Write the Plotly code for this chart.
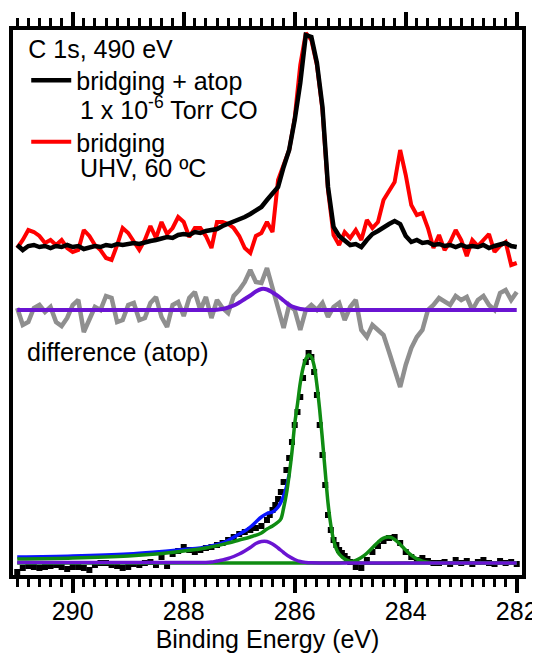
import numpy as np
import plotly.graph_objects as go

# ---------------- data (binding energy in eV, intensity in arbitrary units, stacked) ----------------
energy = np.round(np.arange(291.0, 281.95, -0.1), 2)  # 291.0 ... 282.0

bridging_atop = [332, 327, 331, 332, 330, 331, 329, 331, 330, 332,
                 330, 331, 328, 330, 331, 330, 332, 331, 333, 332,
                 333, 334, 333, 335, 336, 337, 338, 340, 339, 342,
                 343, 342, 345, 344, 346, 347, 348, 351, 353, 355,
                 357, 360, 363, 367, 370, 377, 383, 390, 410, 427,
                 457, 494, 542, 540, 514, 470, 390, 350, 341, 336,
                 332, 333, 330, 337, 343, 346, 350, 353, 356, 353,
                 341, 335, 337, 334, 335, 332, 333, 331, 332, 330,
                 332, 330, 331, 330, 332, 329, 331, 333, 334, 331,
                 330]

bridging = [329, 337, 347, 345, 341, 334, 337, 332, 337, 329,
            325, 327, 347, 341, 332, 327, 319, 317, 332, 349,
            344, 335, 327, 337, 351, 339, 355, 343, 349, 360,
            355, 340, 349, 349, 341, 329, 355, 355, 353, 349,
            341, 329, 324, 341, 344, 355, 345, 397, 412, 427,
            459, 512, 544, 537, 512, 467, 387, 342, 332, 345,
            339, 347, 337, 357, 349, 355, 377, 387, 395, 427,
            402, 372, 362, 364, 349, 329, 342, 327, 335, 347,
            337, 321, 337, 331, 337, 343, 325, 331, 335, 312,
            314]

difference = [269, 252, 255, 269, 272, 265, 270, 255, 251, 259,
              272, 277, 245, 257, 270, 267, 281, 279, 255, 257,
              272, 274, 257, 259, 274, 280, 260, 250, 272, 275,
              261, 279, 285, 267, 280, 259, 277, 269, 264, 281,
              287, 295, 307, 295, 294, 309, 290, 267, 249, 272,
              267, 247, 267, 272, 267, 274, 260, 270, 274, 257,
              270, 277, 247, 240, 252, 247, 242, 225, 207, 190,
              212, 229, 240, 247, 267, 272, 279, 275, 272, 281,
              277, 280, 267, 277, 281, 272, 267, 284, 287, 277,
              285]

# atop component fitted to the difference spectrum
atop_diff_energy = [291.0, 289.0, 287.6, 287.5, 287.4, 287.3, 287.2, 287.1, 287.0, 286.9, 286.8, 286.7,
                    286.6, 286.5, 286.4, 286.3, 286.2, 286.1, 286.0, 285.9, 285.8, 285.7, 285.0, 282.0]
atop_diff = [267, 267, 267, 267, 267.3, 268, 269.5, 271.5, 274.5, 278, 281.5, 285.5,
             288, 287.5, 284.5, 281, 276.5, 272, 269.5, 268, 267.3, 267, 267, 267]

# bottom spectrum (bridging + atop) with fit
fit_data_energy = np.round(np.concatenate([np.arange(291.0, 286.45, -0.1),
                                           np.arange(286.45, 285.02, -0.05),
                                           np.arange(285.0, 281.95, -0.1)]), 2)
fit_data = [5, 9, 11, 10, 9, 10, 11, 12, 10, 8,
            10, 10, 9, 7, 12, 14, 14, 12, 11, 9,
            10, 13, 12, 14, 15, 12, 20, 11, 23, 26,
            30, 27, 25, 27, 29, 30, 32, 34, 37, 40,
            43, 45, 47, 49, 51, 57,
            62, 67, 72, 78, 85, 95, 107, 119, 135, 152,
            165, 180, 199, 215, 224, 220, 205, 182, 152, 122,
            92, 62, 47, 37, 32, 27, 24, 21, 18,
            15, 10, 9, 17, 25, 31, 36, 39, 40, 34,
            25, 20, 17, 19, 16, 14, 14, 15, 13, 17,
            14, 16, 13, 15, 17, 14, 13, 16, 14, 15, 13]

total_fit_energy = [291.0, 290.0, 289.0, 288.5, 288.0, 287.7, 287.3, 287.0, 286.9, 286.8, 286.7,
                    286.6, 286.5, 286.4, 286.3, 286.2, 286.15, 286.1]
total_fit = [20, 21, 23, 25, 27.5, 29, 34, 43, 46, 50, 55, 60, 63.5, 65, 70, 81, 90, 103]

bridging_fit_energy = [291.0, 290.0, 289.0, 288.5, 288.0, 287.6, 287.2, 287.0, 286.8, 286.6, 286.5,
                       286.4, 286.3, 286.25, 286.2, 286.15, 286.1, 286.05, 286.0, 285.95, 285.9,
                       285.85, 285.8, 285.75, 285.7, 285.65, 285.6, 285.55, 285.5, 285.45, 285.4,
                       285.35, 285.3, 285.25, 285.2, 285.1, 285.0, 284.8, 284.0, 282.0]
bridging_fit = [18, 19, 21, 23, 26, 29, 34, 37, 40, 44, 48,
                51, 55, 58, 69, 83, 102, 125, 153, 173, 194,
                209, 218, 222, 220, 211, 192, 167, 137, 105, 74,
                52, 37, 28, 23, 18, 15.5, 14, 14, 14]

low_be_fit_energy = [291.0, 286.0, 285.3, 285.2, 285.1, 285.0, 284.9, 284.8, 284.7, 284.6, 284.5, 284.4,
                     284.3, 284.2, 284.1, 284.0, 283.9, 283.8, 283.7, 283.6, 283.5, 283.4, 283.0, 282.0]
low_be_fit = [14, 14, 14, 14, 14.4, 15.1, 16.6, 19.4, 23.7, 29.2, 34.8, 38.9,
              39.9, 37.6, 32.6, 26.9, 21.8, 18.1, 15.9, 14.7, 14, 14, 14, 14]

atop_fit_energy = [291.0, 289.0, 287.6, 287.5, 287.4, 287.3, 287.2, 287.1, 287.0, 286.9, 286.8, 286.7,
                   286.6, 286.5, 286.4, 286.3, 286.2, 286.1, 286.0, 285.9, 285.8, 285.7, 285.0, 282.0]
atop_fit = [14.5, 14.5, 14.6, 15, 16, 17, 18.5, 20.5, 23, 26, 29.5, 33.5,
            35.5, 35.5, 33, 29, 24.5, 20.5, 17.5, 15.5, 14.6, 14.2, 14, 14]

label_ticks = [282, 284, 286, 288, 290]
tick_labels = ["282", "284", "286", "288", "290"]
odd_ticks = [283, 285, 287, 289, 291]

legend_title = "C 1s, 490 eV"
name_atop = "bridging + atop"
cond_atop = "1 x 10<sup>-6</sup> Torr CO"
name_bridging = "bridging"
cond_bridging = "UHV, 60 ºC"
diff_label = "difference (atop)"
x_title = "Binding Energy (eV)"

# ---------------- styling ----------------
FONT = "Liberation Sans, Arial, sans-serif"
FS = 25
RED = "#ff0000"
GREY = "#8f8f8f"
PURPLE = "#6a14d2"
GREEN = "#0f8c12"
BLUE = "#0a14ff"
X_RANGE = [291.076, 281.905]
# the page body adds an 8 px offset, so the figure is 8 px smaller on the left/top
PAGE_OFFSET = 8

fig = go.Figure()

fig.add_trace(go.Scatter(x=energy, y=bridging, mode="lines", name=name_bridging,
                         line=dict(color=RED, width=4), legendrank=2, legendgroup="b"))
fig.add_trace(go.Scatter(x=energy, y=bridging_atop, mode="lines", name=name_atop,
                         line=dict(color="black", width=4.5), legendrank=1, legendgroup="a"))
fig.add_trace(go.Scatter(x=energy, y=difference, mode="lines", showlegend=False,
                         line=dict(color=GREY, width=4.5)))
fig.add_trace(go.Scatter(x=atop_diff_energy, y=atop_diff, mode="lines", showlegend=False,
                         line=dict(color=PURPLE, width=4, shape="spline")))

fig.add_trace(go.Scatter(x=fit_data_energy, y=fit_data, mode="markers", showlegend=False,
                         marker=dict(symbol="square", size=6, color="black")))
fig.add_trace(go.Scatter(x=total_fit_energy, y=total_fit, mode="lines", showlegend=False,
                         line=dict(color=BLUE, width=3.5, shape="spline")))
fig.add_trace(go.Scatter(x=low_be_fit_energy, y=low_be_fit, mode="lines", showlegend=False,
                         line=dict(color=GREEN, width=3.5, shape="spline")))
fig.add_trace(go.Scatter(x=bridging_fit_energy, y=bridging_fit, mode="lines", showlegend=False,
                         line=dict(color=GREEN, width=3.5, shape="spline")))
fig.add_trace(go.Scatter(x=atop_fit_energy, y=atop_fit, mode="lines", showlegend=False,
                         line=dict(color=PURPLE, width=3.5, shape="spline")))

txt_font = dict(family=FONT, size=FS, color="black")
fig.add_annotation(x=290.86, y=225, xref="x", yref="y", text=diff_label, showarrow=False,
                   xanchor="left", yanchor="middle", font=txt_font)
fig.add_annotation(x=0.1277, y=0.857, xref="paper", yref="paper", text=cond_atop, showarrow=False,
                   xanchor="left", yanchor="middle", font=txt_font)
fig.add_annotation(x=0.1277, y=0.7468, xref="paper", yref="paper", text=cond_bridging, showarrow=False,
                   xanchor="left", yanchor="middle", font=txt_font)

fig.update_layout(
    width=540 - PAGE_OFFSET, height=658 - PAGE_OFFSET,
    margin=dict(l=13 - PAGE_OFFSET, r=18, t=30 - PAGE_OFFSET, b=83, pad=0),
    paper_bgcolor="white", plot_bgcolor="white",
    font=dict(family=FONT, size=FS, color="black"),
    showlegend=True,
    legend=dict(x=0.026, y=1.009, xanchor="left", yanchor="top", bgcolor="rgba(0,0,0,0)",
                borderwidth=0, font=txt_font,
                title=dict(text=legend_title, font=txt_font),
                itemwidth=40, tracegroupgap=26, valign="middle"),
    xaxis=dict(range=X_RANGE, tickmode="array", tickvals=label_ticks, ticktext=tick_labels,
               ticks="outside", ticklen=14, tickwidth=3.5, tickcolor="black",
               showline=True, linewidth=4, linecolor="black", mirror="ticks",
               showgrid=False, zeroline=False, automargin=False, ticklabelstandoff=-3,
               tickfont=txt_font,
               minor=dict(tickmode="linear", tick0=282, dtick=0.2, ticks="outside",
                          ticklen=8, tickwidth=3, tickcolor="black", showgrid=False),
               title=dict(text=x_title, font=txt_font, standoff=2)),
    xaxis2=dict(overlaying="x", anchor="y", side="bottom", range=X_RANGE,
                tickmode="array", tickvals=odd_ticks, ticks="outside", ticklen=12,
                tickwidth=3.5, tickcolor="black", showticklabels=False, showline=False,
                mirror="ticks", showgrid=False, zeroline=False, automargin=False),
    yaxis=dict(range=[2, 547], showline=True, linewidth=4, linecolor="black", mirror=True,
               ticks="", showticklabels=False, showgrid=False, zeroline=False, automargin=False),
)

fig.write_html("out.html")
